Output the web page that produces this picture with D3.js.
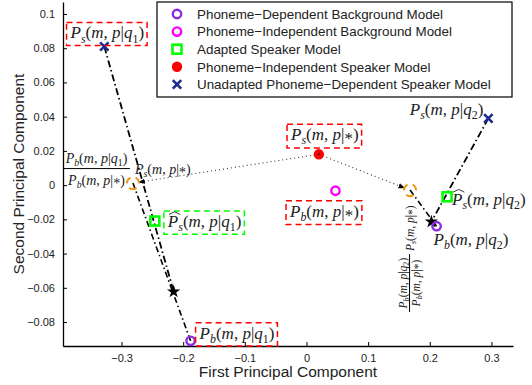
<!DOCTYPE html>
<html><head><meta charset="utf-8">
<script src="https://cdn.jsdelivr.net/npm/d3@7"></script>
<style>body{margin:0;background:#fff}</style>
</head><body>
<script>
// Axis ticks
const xTicks = [-0.3, -0.2, -0.1, 0, 0.1, 0.2, 0.3];
const xTickLabels = ["−0.3", "−0.2", "−0.1", "0", "0.1", "0.2", "0.3"];
const yTicks = [-0.08, -0.06, -0.04, -0.02, 0, 0.02, 0.04, 0.06, 0.08, 0.1];
const yTickLabels = ["−0.08", "−0.06", "−0.04", "−0.02", "0", "0.02", "0.04", "0.06", "0.08", "0.1"];

// Models projected on the first two principal components; index 0 = q1, index 1 = q2
const pdBackground = [[-0.188, -0.091], [0.211, -0.024]];
const piBackground = [[0.047, -0.0033]];
const adaptedSpeaker = [[-0.246, -0.021], [0.228, -0.0068]];
const piSpeaker = [[0.020, 0.018]];
const unadaptedSpeaker = [[-0.328, 0.081], [0.295, 0.039]];
// P_b(q)/P_b(*) * P_s(*) for each class
const scaledSpeaker = [[-0.2815, 0.0012], [0.168, -0.0029]];
// intersection of the adaptation lines
const combinedEstimate = [[-0.2155, -0.0622], [0.2026, -0.0214]];

const legendNames = [
  "Phoneme−Dependent Background Model",
  "Phoneme−Independent Background Model",
  "Adapted Speaker Model",
  "Phoneme−Independent Speaker Model",
  "Unadapted Phoneme−Dependent Speaker Model"
];

const W = 532, H = 385;
const svg = d3.select("body").append("svg").attr("width", W).attr("height", H);

const x = d3.scaleLinear().domain([-0.395, 0.335]).range([63, 513]);
const y = d3.scaleLinear().domain([-0.094, 0.107]).range([346, 2]);
const px = d => [x(d[0]), y(d[1])];

const SANS = "Liberation Sans, Arial, Helvetica, sans-serif";
const SERIF = "Liberation Serif, Times New Roman, serif";
const INK = "#222";

// ---- axes ----
const gx = svg.append("g").attr("transform", "translate(0,346)")
  .call(d3.axisBottom(x).tickValues(xTicks).tickFormat((d, i) => xTickLabels[i])
    .tickSizeInner(-4).tickSizeOuter(0).tickPadding(8));
const gy = svg.append("g").attr("transform", "translate(63,0)")
  .call(d3.axisLeft(y).tickValues(yTicks).tickFormat((d, i) => yTickLabels[i])
    .tickSizeInner(-4).tickSizeOuter(0).tickPadding(8));
[gx, gy].forEach(g => {
  g.select(".domain").attr("stroke", "#000").attr("stroke-width", 1.3);
  g.selectAll(".tick line").attr("stroke", "#000").attr("stroke-width", 1);
  g.selectAll(".tick text").attr("font-family", SANS).attr("font-size", 11).attr("fill", INK);
});

svg.append("text").attr("x", 288).attr("y", 377).attr("text-anchor", "middle")
  .attr("font-family", SANS).attr("font-size", 15.5).attr("fill", INK)
  .text("First Principal Component");
svg.append("text").attr("transform", "translate(24,174) rotate(-90)").attr("text-anchor", "middle")
  .attr("font-family", SANS).attr("font-size", 15.5).attr("fill", INK)
  .text("Second Principal Component");

// ---- construction lines ----
const plot = svg.append("g");
const line = d3.line();

svg.append("defs").append("marker").attr("id", "arr")
  .attr("viewBox", "0 0 10 10").attr("refX", 9).attr("refY", 5)
  .attr("markerWidth", 6).attr("markerHeight", 6).attr("orient", "auto")
  .append("path").attr("d", "M0,1 L10,5 L0,9 Z").attr("fill", "#000");

// dotted: PI speaker model scaled towards each class
scaledSpeaker.forEach(s => {
  const a = px(piSpeaker[0]), b = px(s);
  const dx = b[0] - a[0], dy = b[1] - a[1], L = Math.hypot(dx, dy);
  const e = [b[0] - dx / L * 6, b[1] - dy / L * 6];
  plot.append("path").attr("d", line([a, e])).attr("fill", "none")
    .attr("stroke", "#333").attr("stroke-width", 1.1).attr("stroke-dasharray", "1,3")
    .attr("marker-end", "url(#arr)");
});

// dash-dot: unadapted speaker -> combined estimate (through adapted model)
unadaptedSpeaker.forEach((u, i) => {
  plot.append("path").attr("d", line([px(u), px(combinedEstimate[i])])).attr("fill", "none")
    .attr("stroke", "#000").attr("stroke-width", 1.8).attr("stroke-dasharray", "7,3,1.5,3");
});
// dash-dot: scaled speaker -> PD background (through combined estimate)
scaledSpeaker.forEach((s, i) => {
  plot.append("path").attr("d", line([px(s), px(pdBackground[i])])).attr("fill", "none")
    .attr("stroke", "#000").attr("stroke-width", 1.6).attr("stroke-dasharray", "6,3,1.5,3");
});

// orange angle markers at the scaled points
scaledSpeaker.forEach(s => {
  const [cx, cy] = px(s);
  plot.append("circle").attr("cx", cx).attr("cy", cy).attr("r", 6).attr("fill", "none")
    .attr("stroke", "#EE9515").attr("stroke-width", 2).attr("stroke-dasharray", "7,5")
    .attr("transform", `rotate(60,${cx},${cy})`);
});

// stars
combinedEstimate.forEach(c => {
  plot.append("path").attr("transform", `translate(${px(c)})`)
    .attr("d", d3.symbol(d3.symbolStar, 55)()).attr("fill", "#000");
});

// ---- markers ----
const COL = { pdb: "#8A2BE2", pib: "#FF00FF", ad: "#00FF00", pis: "#FF0000", un: "#1C2A8C" };
function marker(g, type, cx, cy) {
  if (type === "pdb" || type === "pib") {
    g.append("circle").attr("cx", cx).attr("cy", cy).attr("r", 4.2).attr("fill", "none")
      .attr("stroke", COL[type]).attr("stroke-width", 2.4);
  } else if (type === "ad") {
    g.append("rect").attr("x", cx - 4.5).attr("y", cy - 4.5).attr("width", 9).attr("height", 9)
      .attr("fill", "none").attr("stroke", COL.ad).attr("stroke-width", 2.6);
  } else if (type === "pis") {
    g.append("circle").attr("cx", cx).attr("cy", cy).attr("r", 5.2).attr("fill", COL.pis);
  } else if (type === "un") {
    const r = 4.2;
    g.append("path").attr("d", `M${cx - r},${cy - r}L${cx + r},${cy + r}M${cx - r},${cy + r}L${cx + r},${cy - r}`)
      .attr("stroke", COL.un).attr("stroke-width", 2.6);
  }
}
pdBackground.forEach(d => marker(plot, "pdb", ...px(d)));
piBackground.forEach(d => marker(plot, "pib", ...px(d)));
adaptedSpeaker.forEach(d => marker(plot, "ad", ...px(d)));
piSpeaker.forEach(d => marker(plot, "pis", ...px(d)));
unadaptedSpeaker.forEach(d => marker(plot, "un", ...px(d)));
// dark centre where the dotted line meets the red dot
piSpeaker.forEach(d => plot.append("circle").attr("cx", px(d)[0]).attr("cy", px(d)[1]).attr("r", 1).attr("fill", "#600"));

// ---- math labels ----
function density(sub, cls) {
  const tk = [["P", "i"], [sub, "si"], ["(", "r"], ["m", "i"], [", ", "r"], ["p", "i"], ["|", "r"]];
  if (cls === "*") tk.push(["*", "a"]); else tk.push(["q", "i"], [cls, "sr"]);
  tk.push([")", "r"]);
  return tk;
}
function mathText(parent, tx, ty, tokens, size, anchor) {
  const t = parent.append("text").attr("x", tx).attr("y", ty)
    .attr("font-family", SERIF).attr("font-size", size)
    .attr("text-anchor", anchor || "start").attr("fill", INK);
  let shift = 0;
  tokens.forEach(([s, k]) => {
    const sub = k.startsWith("s");
    // subscripts drop below the baseline; the asterisk is lowered to sit on the math axis
    const target = sub ? size * 0.24 : (k === "a" ? size * 0.22 : 0);
    t.append("tspan").text(s).attr("dy", target - shift)
      .attr("font-size", sub ? size * 0.7 : size)
      .attr("font-style", k.endsWith("i") ? "italic" : "normal");
    shift = target;
  });
  return t;
}
function hat(parent, t, ty, size) {
  const e = t.node().getExtentOfChar(0);
  const x0 = e.x + 1, x1 = e.x + e.width + 2, top = ty - size * 0.74;
  parent.append("path").attr("d", `M${x0},${top}L${(x0 + x1) / 2},${top - size * 0.16}L${x1},${top}`)
    .attr("fill", "none").attr("stroke", INK).attr("stroke-width", 0.9);
}
function box(parent, t, color) {
  const b = t.node().getBBox();
  parent.append("rect").attr("x", b.x - 3).attr("y", b.y - 1).attr("width", b.width + 6).attr("height", b.height + 1)
    .attr("fill", "none").attr("stroke", color).attr("stroke-width", 1.5).attr("stroke-dasharray", "6,4");
}

const lab = svg.append("g");
const FS = 17;
function at(d, dx, dy) { const p = px(d); return [p[0] + dx, p[1] + dy]; }

let t, p;
p = at(unadaptedSpeaker[0], 3, -8);
t = mathText(lab, p[0], p[1], density("s", "1"), FS, "middle"); box(lab, t, "#FF0000");
p = at(piSpeaker[0], 6, -14);
t = mathText(lab, p[0], p[1], density("s", "*"), FS, "middle"); box(lab, t, "#FF0000");
p = at(piBackground[0], -11, 26);
t = mathText(lab, p[0], p[1], density("b", "*"), FS, "middle"); box(lab, t, "#FF0000");
p = at(adaptedSpeaker[0], 13, 6);
t = mathText(lab, p[0], p[1], density("s", "1"), FS, "start"); box(lab, t, "#00FF00"); hat(lab, t, p[1], FS);
p = at(pdBackground[0], 9, -2);
t = mathText(lab, p[0], p[1], density("b", "1"), FS, "start"); box(lab, t, "#FF0000");
p = at(unadaptedSpeaker[1], -5, -3);
t = mathText(lab, p[0], p[1], density("s", "2"), FS, "end");
p = at(adaptedSpeaker[1], 5, 8);
t = mathText(lab, p[0], p[1], density("s", "2"), FS, "start"); hat(lab, t, p[1], FS);
p = at(pdBackground[1], -3, 19);
t = mathText(lab, p[0], p[1], density("b", "2"), FS, "start");

// ratio label for q1, left of the scaled point
{
  const [sx, sy] = px(scaledSpeaker[0]);
  const fs = 14, x0 = 63, x1 = sx - 3;
  const cx = (x0 + x1) / 2;
  mathText(lab, cx, sy - 20, density("b", "1"), fs, "middle");
  lab.append("line").attr("x1", x0).attr("x2", x1).attr("y1", sy - 14.5).attr("y2", sy - 14.5)
    .attr("stroke", "#000").attr("stroke-width", 1);
  mathText(lab, cx, sy + 2, density("b", "*"), fs, "middle");
  mathText(lab, sx + 2, sy - 9, density("s", "*"), fs, "start");
}
// ratio label for q2, rotated, below the scaled point
{
  const [sx, sy] = px(scaledSpeaker[1]);
  const g = lab.append("g").attr("transform", `translate(${sx - 0.5},${sy + 122}) rotate(-90)`);
  const fs = 11.5;
  mathText(g, 29, -3, density("b", "2"), fs, "middle");
  g.append("line").attr("x1", 0).attr("x2", 58).attr("y1", 0).attr("y2", 0).attr("stroke", "#000").attr("stroke-width", 1);
  mathText(g, 29, 10, density("b", "*"), fs, "middle");
  mathText(g, 61, 4, density("s", "*"), fs, "start");
}

// ---- legend ----
const leg = svg.append("g");
leg.append("rect").attr("x", 157).attr("y", 2).attr("width", 355).attr("height", 95)
  .attr("fill", "#fff").attr("stroke", "#000").attr("stroke-width", 1.2);
const legTypes = ["pdb", "pib", "ad", "pis", "un"];
legendNames.forEach((name, i) => {
  const ly = 14 + i * 17.6;
  marker(leg, legTypes[i], 177, ly);
  leg.append("text").attr("x", 197).attr("y", ly + 4.7).attr("font-family", SANS).attr("font-size", 13.4)
    .attr("fill", INK).text(name);
});
</script>
</body></html>
